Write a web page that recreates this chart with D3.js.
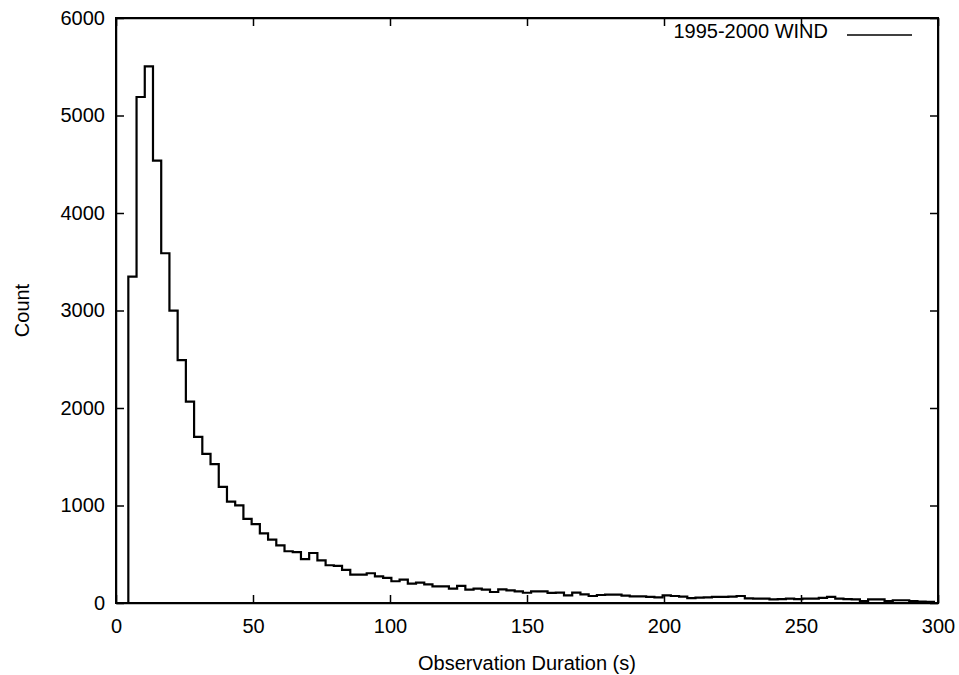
<!DOCTYPE html>
<html>

<head>
  <title>Observation duration histogram</title>
  <meta charset="utf-8">
  <style>
    body { margin: 0; background: #fff; }
    svg text { font-family: 'Liberation Sans', Arial, Helvetica, sans-serif; fill: #000; }
    .axis path, .axis line { stroke: #000; stroke-width: 1.5; }
  </style>
</head>

<body>
  <div class='chart-container'></div>
  <script src="https://d3js.org/d3.v7.min.js"></script>
  <script>
    // histogram bins: left edge of first bin and bin width (seconds)
    var binStart = 4.5;
    var binWidth = 3;

    // counts per bin
    var counts = [
      3347, 5190, 5503, 4538, 3587, 2998, 2492, 2066, 1704, 1530,
      1424, 1191, 1040, 1002, 862, 808, 715, 651, 592, 531,
      522, 449, 513, 438, 387, 380, 340, 291, 291, 305,
      274, 257, 223, 240, 199, 209, 191, 171, 171, 148,
      175, 137, 148, 137, 113, 140, 130, 120, 105, 120,
      120, 103, 107, 79, 107, 89, 72, 82, 86, 86,
      75, 68, 68, 62, 58, 79, 72, 65, 51, 55,
      58, 62, 62, 65, 72, 48, 45, 45, 38, 40,
      45, 40, 45, 45, 52, 62, 45, 40, 38, 20,
      38, 38, 20, 28, 28, 20, 15, 12
    ];

    var xTicks = [0, 50, 100, 150, 200, 250, 300];
    var yTicks = [0, 1000, 2000, 3000, 4000, 5000, 6000];
    var seriesLabel = '1995-2000 WIND';
    var xLabel = 'Observation Duration (s)';
    var yLabel = 'Count';

    var W = 959, H = 675;
    var margin = { top: 18, right: 21, bottom: 72, left: 116 };
    var width = W - margin.left - margin.right;
    var height = H - margin.top - margin.bottom;
    var fontSize = '20px';

    var x = d3.scaleLinear().domain([0, 300]).range([0, width]);
    var y = d3.scaleLinear().domain([0, 6000]).range([height, 0]);

    var svg = d3.select('.chart-container').append('svg')
      .attr('width', W)
      .attr('height', H)
      .append('g')
      .attr('transform', 'translate(' + margin.left + ',' + margin.top + ')');

    // axes with inward ticks, mirrored on top/right
    svg.append('g')
      .attr('class', 'axis')
      .attr('transform', 'translate(0,' + height + ')')
      .call(d3.axisBottom(x).tickValues(xTicks).tickFormat(d3.format('d'))
        .tickSizeInner(-8).tickSizeOuter(0).tickPadding(16))
      .call(function (g) { g.selectAll('text').style('font-size', fontSize); });

    svg.append('g')
      .attr('class', 'axis')
      .call(d3.axisLeft(y).tickValues(yTicks).tickFormat(d3.format('d'))
        .tickSizeInner(-8).tickSizeOuter(0).tickPadding(11))
      .call(function (g) { g.selectAll('text').style('font-size', fontSize); });

    svg.append('g')
      .attr('class', 'axis')
      .call(d3.axisTop(x).tickValues(xTicks).tickSizeInner(-8).tickSizeOuter(0).tickFormat(''));

    svg.append('g')
      .attr('class', 'axis')
      .attr('transform', 'translate(' + width + ',0)')
      .call(d3.axisRight(y).tickValues(yTicks).tickSizeInner(-8).tickSizeOuter(0).tickFormat(''));

    svg.append('rect')
      .attr('width', width)
      .attr('height', height)
      .style('fill', 'none')
      .style('stroke', '#000')
      .style('stroke-width', 2);

    // step outline of the histogram
    var pts = [{ x: binStart, y: 0 }];
    counts.forEach(function (c, i) { pts.push({ x: binStart + i * binWidth, y: c }); });
    var binEnd = binStart + counts.length * binWidth;
    pts.push({ x: binEnd, y: counts[counts.length - 1] });
    pts.push({ x: binEnd, y: 0 });

    var line = d3.line()
      .curve(d3.curveStepAfter)
      .x(function (d) { return x(d.x); })
      .y(function (d) { return y(d.y); });

    svg.append('path')
      .attr('d', line(pts))
      .style('fill', 'none')
      .style('stroke', '#000')
      .style('stroke-width', 2.2);

    // legend
    var legend = svg.append('g').attr('transform', 'translate(0,17)');
    legend.append('text')
      .attr('x', 712)
      .attr('y', 3)
      .attr('text-anchor', 'end')
      .style('font-size', fontSize)
      .text(seriesLabel);
    legend.append('line')
      .attr('x1', 731).attr('x2', 796)
      .style('stroke', '#000')
      .style('stroke-width', 1.5);

    // axis titles
    svg.append('text')
      .attr('x', width / 2)
      .attr('y', height + 67)
      .attr('text-anchor', 'middle')
      .style('font-size', fontSize)
      .text(xLabel);

    svg.append('text')
      .attr('transform', 'translate(' + (-94) + ',' + (height / 2) + ') rotate(-90)')
      .attr('dy', '0.35em')
      .attr('text-anchor', 'middle')
      .style('font-size', fontSize)
      .text(yLabel);
  </script>
</body>

</html>
